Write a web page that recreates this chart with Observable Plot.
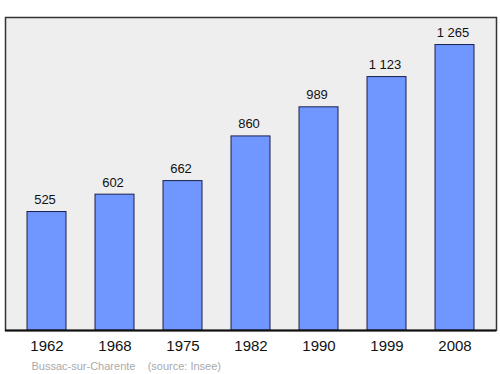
<!DOCTYPE html>
<html><head><meta charset="utf-8">
<script src="https://cdn.jsdelivr.net/npm/d3@7"></script>
<script src="https://cdn.jsdelivr.net/npm/@observablehq/plot@0.6"></script>
<style>
body{margin:0;background:#fff;font-family:"Liberation Sans",Arial,sans-serif;}
</style></head>
<body><div id="chart"></div>
<script>
const years = ["1962","1968","1975","1982","1990","1999","2008"];
const population = [525, 602, 662, 860, 989, 1123, 1265];
const labels = ["525","602","662","860","989","1 123","1 265"];
const captionText = "Bussac-sur-Charente    (source: Insee)";

const data = years.map((y, i) => ({year: y, pop: population[i], label: labels[i]}));

const chart = Plot.plot({
  width: 500,
  height: 374,
  marginTop: 17,
  marginBottom: 44,
  marginLeft: 5,
  marginRight: 4,
  style: {fontFamily: "'Liberation Sans', Arial, sans-serif", background: "#fff"},
  x: {domain: years, paddingInner: 0.43, paddingOuter: 0.29, label: null},
  y: {domain: [0, 1387], axis: null},
  marks: [
    Plot.frame({fill: "#eeeeee", stroke: "#333", strokeWidth: 1.5}),
    Plot.barY(data, {x: "year", y: "pop", fill: "#7096ff", stroke: "#1a1f4d", strokeWidth: 1}),
    Plot.text(data, {x: "year", y: "pop", text: "label", lineAnchor: "bottom", dx: -2, dy: -8, fontSize: 13, fill: "#111"}),
    Plot.axisX({tickSize: 0, tickPadding: 10, fontSize: 15, color: "#111", label: null}),
    Plot.ruleY([0], {stroke: "#111", strokeWidth: 2}),
    Plot.text([captionText], {frameAnchor: "bottom-left", dx: 26, dy: 39, fontSize: 11, fill: "#aaa", textAnchor: "start"})
  ]
});
document.getElementById("chart").appendChild(chart);
</script></body></html>
